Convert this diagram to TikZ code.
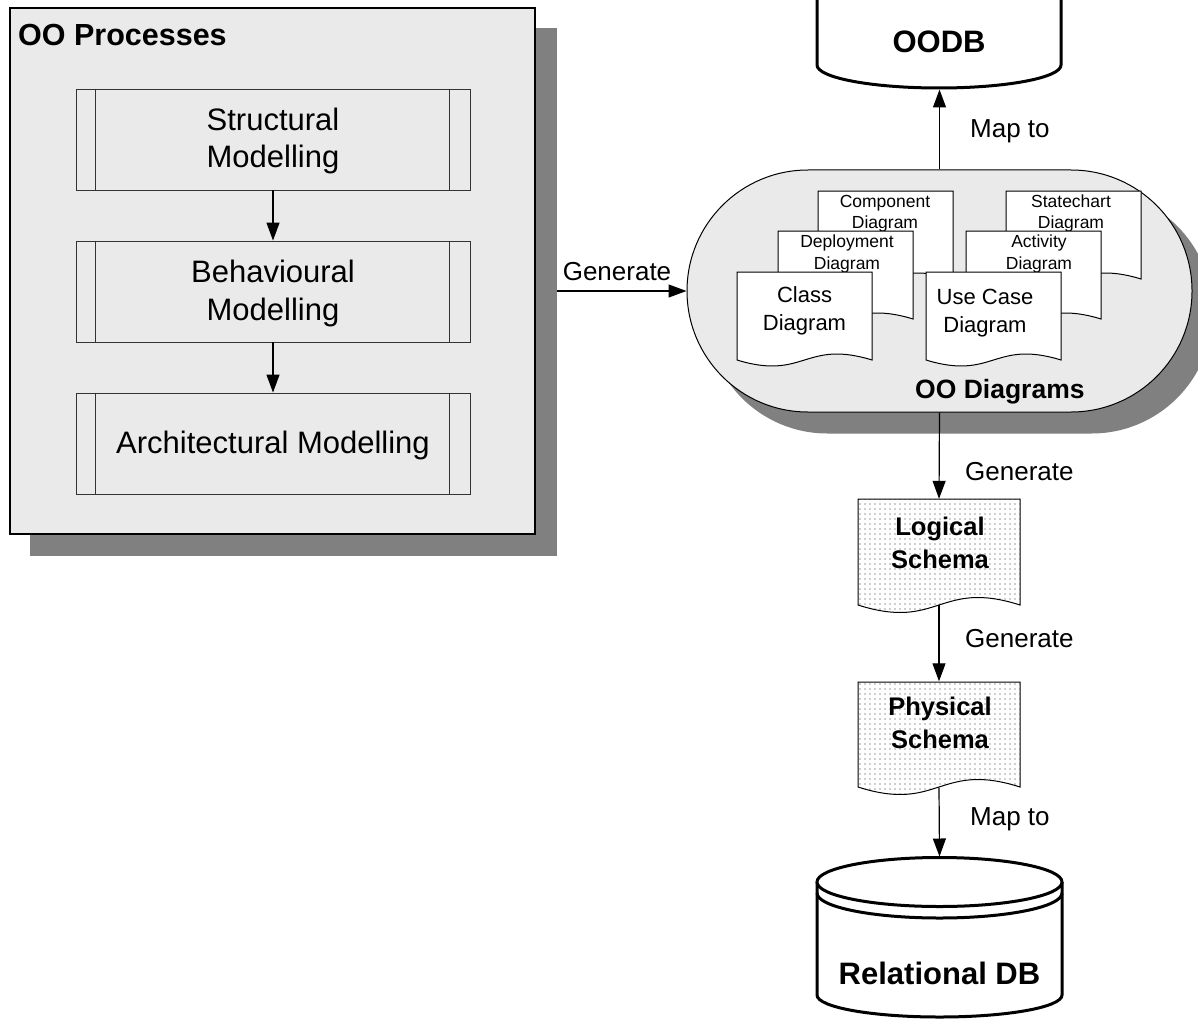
\documentclass[tikz,border=0pt]{standalone}
\usepackage{fontspec}
\setmainfont{Liberation Sans}
\usetikzlibrary{arrows.meta,patterns}
\pgfdeclarepatternformonly{sparsedots}{\pgfpoint{-1pt}{-1pt}}{\pgfpoint{1pt}{1pt}}{\pgfpoint{5pt}{5pt}}{\pgfpathcircle{\pgfpointorigin}{0.7pt}\pgfusepath{fill}}
\pgfdeclarelayer{bg}
\pgfsetlayers{bg,main}
\definecolor{panel}{RGB}{234,234,234}
\definecolor{shadowgray}{RGB}{128,128,128}
\newcommand{\wavedoc}[6]{%
  \path[#1] (#2,#3) -- ({#2+#4},#3) -- ({#2+#4},{#3+#5})
   .. controls ({#2+0.5*#4},{#3+#5-1.73*#6}) and ({#2+0.5*#4},{#3+#5+1.73*#6}) .. (#2,{#3+#5}) -- cycle;}
\begin{document}
\begin{tikzpicture}[x=1pt,y=-1pt,
  arr/.style={line width=1.2pt,-{Triangle[length=18pt,width=13pt]}},
  lbl/.style={font=\fontsize{26}{31}\selectfont,inner sep=0,anchor=base west},
  proclbl/.style={font=\fontsize{31}{37}\selectfont,inner sep=0,anchor=base},
  smalllbl/.style={font=\fontsize{17.5}{21}\selectfont,inner sep=0,anchor=base},
  midlbl/.style={font=\fontsize{22}{28}\selectfont,inner sep=0,anchor=base},
  schemalbl/.style={font=\bfseries\fontsize{25.5}{33}\selectfont,inner sep=0,anchor=base},
  dblbl/.style={font=\bfseries\fontsize{31}{37}\selectfont,inner sep=0,anchor=base},
  procstep/.style={draw=black!80,line width=0.9pt,minimum width=394pt,minimum height=101pt,inner sep=0},
  plaindoc/.style={draw=black,line width=1pt,fill=white},
  schemadoc/.style={draw=black,line width=1pt,pattern=sparsedots,pattern color=black!80,preaction={fill=white}},
  cyl/.style={draw=black,line width=3pt,fill=white},
  holder/.style={minimum width=162pt,minimum height=106pt,inner sep=0}]
\useasboundingbox (0,0) rectangle (1198,1019);

% ---- OO Processes panel ----
\node[draw=black,line width=1.2pt,fill=panel,minimum width=525pt,minimum height=526pt,inner sep=0] (procbox) at (272.5,271) {};
\node[font=\bfseries\fontsize{30.5}{36}\selectfont,inner sep=0,anchor=base west] (proctitle) at (18,46) {OO Processes};

\node[procstep] (struct) at (273,139.5) {};
\node[procstep] (behav) at (273,291.5) {};
\node[procstep] (arch) at (273,443.5) {};
\foreach \n in {struct,behav,arch}{
  \draw[draw=black!80,line width=0.9pt] ([xshift=20pt]\n.north west) -- ([xshift=20pt]\n.south west);
  \draw[draw=black!80,line width=0.9pt] ([xshift=-21pt]\n.north east) -- ([xshift=-21pt]\n.south east);
}
\node[proclbl] (structA) at (273,130.5) {Structural};
\node[proclbl] (structB) at (273,167.5) {Modelling};
\node[proclbl] (behavA) at (273,282) {Behavioural};
\node[proclbl] (behavB) at (273,320) {Modelling};
\node[proclbl] (archA) at (273,453) {Architectural Modelling};

\draw[arr] (struct.south) -- (behav.north);
\draw[arr] (behav.south) -- (arch.north);

% ---- OO Diagrams stadium ----
\node[draw=black,line width=1pt,fill=panel,rounded corners=120.9pt,minimum width=505pt,minimum height=242pt,inner sep=0] (stad) at (939.5,291) {};

\wavedoc{plaindoc}{818}{191}{135}{88}{12}
\wavedoc{plaindoc}{1006}{191}{135}{88}{12}
\node[smalllbl] (compA) at (885,207) {Component};
\node[smalllbl] (compB) at (885,228) {Diagram};
\node[smalllbl] (stateA) at (1071,207) {Statechart};
\node[smalllbl] (stateB) at (1071,228) {Diagram};

\wavedoc{plaindoc}{778}{231}{135}{88}{12}
\wavedoc{plaindoc}{966}{231}{135}{88}{12}
\node[smalllbl] (deplA) at (847,247.5) {Deployment};
\node[smalllbl] (deplB) at (847,269) {Diagram};
\node[smalllbl] (actA) at (1039,247.5) {Activity};
\node[smalllbl] (actB) at (1039,269) {Diagram};

\wavedoc{plaindoc}{737}{272}{135}{88}{12}
\wavedoc{plaindoc}{926}{272}{135}{88}{12}
\node[midlbl] (classA) at (804.5,302) {Class};
\node[midlbl] (classB) at (804.5,330) {Diagram};
\node[midlbl] (ucA) at (985,304) {Use Case};
\node[midlbl] (ucB) at (985,332) {Diagram};

\node[font=\bfseries\fontsize{26.5}{32}\selectfont,inner sep=0,anchor=base west] (stadtitle) at (915,398) {OO Diagrams};

% ---- OODB ----
\draw[cyl] (817,-10) -- (817,65) .. controls (817,77.7) and (871.6,88) .. (939,88)
  .. controls (1006.4,88) and (1061,77.7) .. (1061,65) -- (1061,-10);
\node[dblbl] (oodbtxt) at (939,53) {OODB};
\coordinate (oodbbot) at (939.5,89.5);

% ---- Logical / Physical schema ----
\node[holder] (logical) at (939,552) {};
\wavedoc{schemadoc}{858}{499}{162}{106}{15}
\node[schemalbl] (logA) at (940,535) {Logical};
\node[schemalbl] (logB) at (940,568) {Schema};

\node[holder] (physical) at (939,734.5) {};
\wavedoc{schemadoc}{858}{682}{162}{105}{15}
\node[schemalbl] (phyA) at (940,715) {Physical};
\node[schemalbl] (phyB) at (940,748) {Schema};

% ---- Relational DB ----
\draw[cyl] (817,882) -- (817,995) .. controls (817,1007.2) and (871.8,1017) .. (939.5,1017)
  .. controls (1007.2,1017) and (1062,1007.2) .. (1062,995) -- (1062,882);
\draw[cyl] (939.5,882) ellipse [x radius=122.5pt, y radius=24.5pt];
\draw[draw=black,line width=3pt] (817,893) .. controls (817,906.8) and (871.8,918) .. (939.5,918)
  .. controls (1007.2,918) and (1062,906.8) .. (1062,893);
\node[dblbl] (rdbtxt) at (939.5,984) {Relational DB};
\coordinate (rdbtop) at (939.5,856.5);

% ---- connectors and labels ----
\draw[arr] (stad.north) -- (oodbbot);
\node[lbl] (mapA) at (970,138) {Map to};
\draw[arr] (stad.south) -- (logical.north);
\node[lbl] (genA) at (965,480) {Generate};
\draw[arr] (logical.south) -- (physical.north);
\node[lbl] (genB) at (965,647) {Generate};
\draw[arr] (physical.south) -- (rdbtop);
\node[lbl] (mapB) at (970,825) {Map to};
\node[lbl,anchor=base] (genC) at (617,280) {Generate};

\begin{pgfonlayer}{bg}
  \draw[arr] (procbox.east |- stad.west) -- (stad.west);
  \fill[shadowgray] ([shift={(21,21)}]procbox.south west) rectangle ([shift={(21,21)}]procbox.north east);
  \fill[shadowgray,rounded corners=120.9pt] ([shift={(20,21)}]stad.south west) rectangle ([shift={(20,21)}]stad.north east);
\end{pgfonlayer}
\end{tikzpicture}
\end{document}
